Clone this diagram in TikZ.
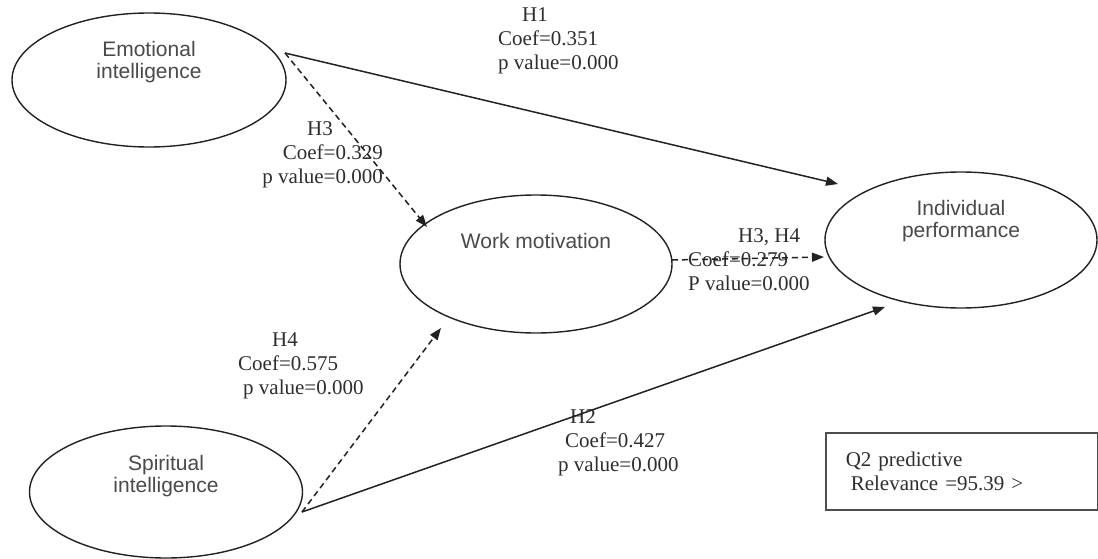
\documentclass[tikz,border=0pt]{standalone}
\usepackage{fontspec}
\setmainfont{Liberation Serif}
\newfontfamily\lsans{Liberation Sans}
\usetikzlibrary{arrows.meta,shapes.geometric}
\definecolor{ink}{HTML}{222222}
\definecolor{sanstxt}{HTML}{4A4A4A}
\definecolor{sertxt}{HTML}{2E2E2E}
\tikzset{
  ell/.style={draw=ink, line width=1.4pt, ellipse, inner sep=0pt},
  ename/.style={font=\lsans\fontsize{21}{22}\selectfont, text=sanstxt, align=center},
  hyp/.style={font=\fontsize{21}{24}\selectfont, text=sertxt, inner sep=0pt},
  solidarr/.style={draw=ink, line width=1.5pt, -{Triangle[length=12pt,width=9pt]}},
  dasharr/.style={draw=ink, line width=1.5pt, dash pattern=on 6pt off 4pt, -{Triangle[length=12pt,width=9pt]}},
  qbox/.style={draw=ink!80, line width=1.6pt, inner sep=0pt, font=\fontsize{21}{24}\selectfont, text=sertxt}
}
\begin{document}
\begin{tikzpicture}[x=1pt,y=-1pt]
\useasboundingbox (0,0) rectangle (1098,559);
\fill[white] (0,0) rectangle (1098,559);

% latent variables
\node[ell, minimum width=274pt, minimum height=134pt,
  label={[ename,yshift=17.5pt]center:{Emotional\\intelligence}}] (ei) at (149,80) {};
\node[ell, minimum width=273pt, minimum height=132pt,
  label={[ename,yshift=15.5pt]center:{Spiritual\\intelligence}}] (si) at (166,492) {};
\node[ell, minimum width=272pt, minimum height=138pt,
  label={[ename,yshift=23pt]center:{Work motivation}}] (wm) at (536,264) {};
\node[ell, minimum width=272pt, minimum height=136pt,
  label={[ename,yshift=18.5pt]center:{Individual\\performance}}] (ip) at (961,240) {};

% hypothesis labels
\node[hyp, align=left, anchor=west] (l1) at (498,41) {\hspace*{24pt}H1\\Coef=0.351\\p value=0.000};
\node[hyp, align=right, anchor=east] (l3) at (383,155) {H3\hspace*{50pt}\\Coef=0.329\\p value=0.000};
\node[hyp, align=left, anchor=west] (l34) at (688,260) {\hspace*{50pt}H3, H4\\Coef=0.279\\P value=0.000};
\node[hyp, align=left, anchor=west] (l4) at (238,366) {\hspace*{34pt}H4\\Coef=0.575\\\hspace*{5pt}p value=0.000};
\node[hyp, align=left, anchor=west] (l2) at (558,443) {\hspace*{12pt}H2\\\hspace*{7pt}Coef=0.427\\p value=0.000};

% connector end points
\coordinate (eiout) at (285,53);
\coordinate (h1end) at (838,184);
\coordinate (h3end) at (427,227);
\coordinate (siout) at (302,512);
\coordinate (h4end) at (441,328);
\coordinate (h2end) at (885,307);
\coordinate (wmout) at (672,260);
\coordinate (h34end) at (824,257);

% connectors
\draw[solidarr] (eiout) -- (h1end);
\draw[dasharr] (eiout) -- (h3end);
\draw[dasharr] (siout) -- (h4end);
\draw[solidarr] (siout) -- (h2end);
\draw[dasharr] (wmout) -- (h34end);

% Q2 box
\node[qbox, anchor=north west, minimum width=271pt, minimum height=77pt,
  text width=232pt, align=left, inner xsep=20pt] (q2) at (825,432)
  {Q2 predictive\\\hspace*{5pt}Relevance =95.39 >};
\end{tikzpicture}
\end{document}
